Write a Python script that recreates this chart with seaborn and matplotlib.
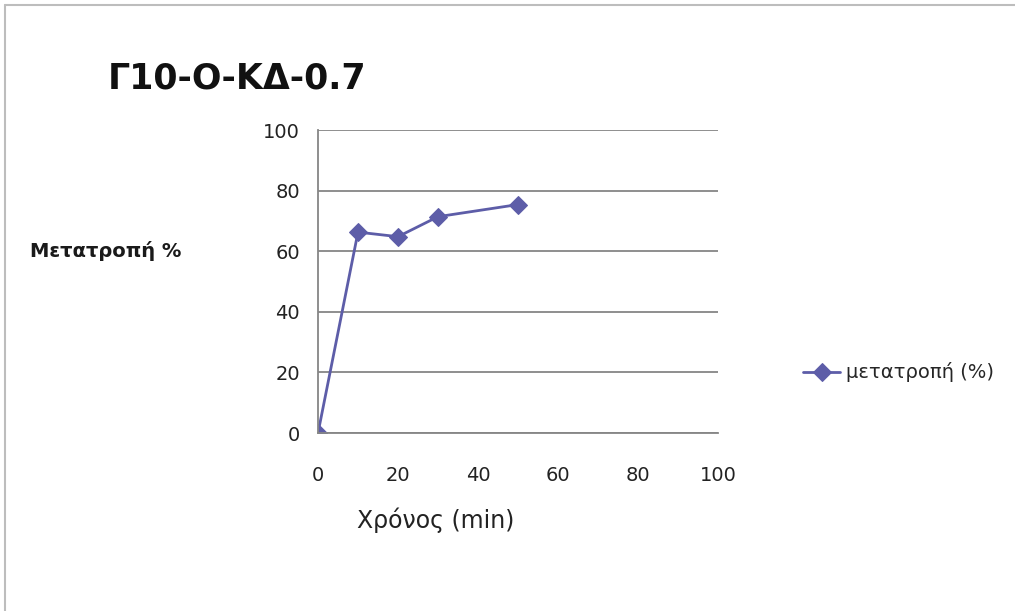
import matplotlib
matplotlib.use("Agg")
import matplotlib.pyplot as plt
import seaborn as sns
import pandas as pd
from matplotlib.lines import Line2D

# Data
time_min = [0, 10, 20, 30, 50]
conversion = [0, 66.3, 64.8, 71.4, 75.4]
series_name = "μετατροπή (%)"
title = "Γ10-Ο-ΚΔ-0.7"

sns.set_theme(style="white")
plt.rcParams["font.family"] = ["DejaVu Sans"]

df = pd.DataFrame({"t": time_min, "conv": conversion})

fig = plt.figure(figsize=(10.15, 6.11), dpi=100)
ax = fig.add_axes([0.3133, 0.2913, 0.394, 0.4959])

line_color = "#5d5da8"
sns.lineplot(data=df, x="t", y="conv", ax=ax, color=line_color, marker="D",
             markersize=9, markeredgecolor=line_color, linewidth=2,
             label=series_name)

ax.set_xlim(0, 100)
ax.set_ylim(0, 100)
ax.set_xticks(range(0, 101, 20))
ax.set_yticks(range(0, 101, 20))
ax.yaxis.grid(True, color="#868686", linewidth=1.3)
ax.xaxis.grid(False)
for side in ["top", "right"]:
    ax.spines[side].set_visible(False)
for side in ["left", "bottom"]:
    ax.spines[side].set_color("#868686")
    ax.spines[side].set_linewidth(1.3)
ax.tick_params(axis="both", labelsize=14, colors="#222222", length=0)
ax.tick_params(axis="x", pad=24)
ax.tick_params(axis="y", pad=13)
ax.set_xlabel("Χρόνος (min)", fontsize=17, color="#222222")
ax.xaxis.set_label_coords(0.295, -0.245)
ax.set_ylabel("")

fig.text(0.03, 0.59, "Μετατροπή %", fontsize=14, fontweight="bold",
         color="#1a1a1a", va="center", ha="left")
fig.text(0.106, 0.872, title, fontsize=25, fontweight="bold",
         color="#111111", va="center", ha="left")

ax.legend(loc="center left", bbox_to_anchor=(1.17, 0.2), frameon=False,
          fontsize=14, handlelength=1.9, handletextpad=0.3)

# chart-area frame, visible on top and left
fig.add_artist(Line2D([0.005, 1.0], [0.992, 0.992], transform=fig.transFigure,
                      color="#bdbdbd", linewidth=1.5))
fig.add_artist(Line2D([0.005, 0.005], [0.0, 0.992], transform=fig.transFigure,
                      color="#bdbdbd", linewidth=1.5))

fig.savefig("out.png", dpi=100)
